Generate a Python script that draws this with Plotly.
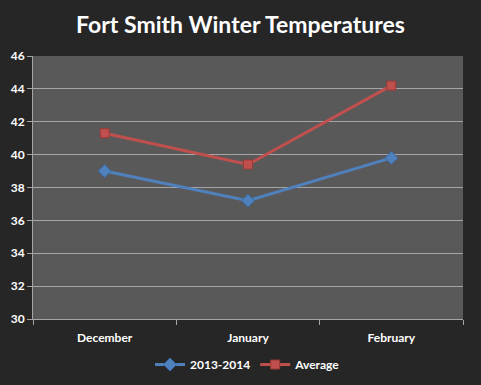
import plotly.graph_objects as go

months = ["December", "January", "February"]
season_2013_2014 = [39.0, 37.2, 39.8]
average = [41.3, 39.4, 44.2]
y_ticks = [30, 32, 34, 36, 38, 40, 42, 44, 46]

FONT = "Lato, Open Sans, sans-serif"

fig = go.Figure()
fig.add_trace(go.Scatter(
    x=months, y=season_2013_2014, name="<b>2013-2014</b>", mode="lines+markers",
    line=dict(color="#4f81bd", width=3),
    marker=dict(symbol="diamond", size=10, color="#4f81bd", line=dict(color="#3a6aa5", width=1)),
))
fig.add_trace(go.Scatter(
    x=months, y=average, name="<b>Average</b>", mode="lines+markers",
    line=dict(color="#c0504d", width=3),
    marker=dict(symbol="square", size=9, color="#c0504d", line=dict(color="#9b3a37", width=1)),
))

fig.update_layout(
    width=481, height=385,
    paper_bgcolor="#262626", plot_bgcolor="#595959",
    margin=dict(l=33, r=18, t=56, b=66, autoexpand=False),
    title=dict(text="<b>Fort Smith Winter Temperatures</b>", x=0.5, xanchor="center",
               y=0.935, yanchor="middle",
               font=dict(family=FONT, size=23, color="white")),
    font=dict(family=FONT, color="white"),
    showlegend=True,
    legend=dict(orientation="h", x=0.5, xanchor="center", y=-0.118, yanchor="top",
                font=dict(size=12, color="white"), bgcolor="rgba(0,0,0,0)",
                itemwidth=30, tracegroupgap=0),
)
fig.update_xaxes(
    type="category", range=[-0.5, 2.5], tickson="boundaries",
    ticks="outside", ticklen=5, tickcolor="#a6a6a6", ticklabelstandoff=8,
    showline=True, linecolor="#a6a6a6", linewidth=1, showgrid=False,
    tickfont=dict(size=12, color="white", family=FONT, weight="bold"),
)
fig.update_yaxes(
    range=[30, 46], tickvals=y_ticks, ticks="outside", ticklen=5, tickcolor="#a6a6a6",
    showline=True, linecolor="#a6a6a6", linewidth=1,
    showgrid=True, gridcolor="#a6a6a6", gridwidth=1, zeroline=False,
    tickfont=dict(size=12, color="white", family=FONT, weight="bold"),
)

fig.write_html(
    "out.html",
    config={"displayModeBar": False},
    post_script="document.body.style.margin='0';document.body.style.background='#262626';",
)
